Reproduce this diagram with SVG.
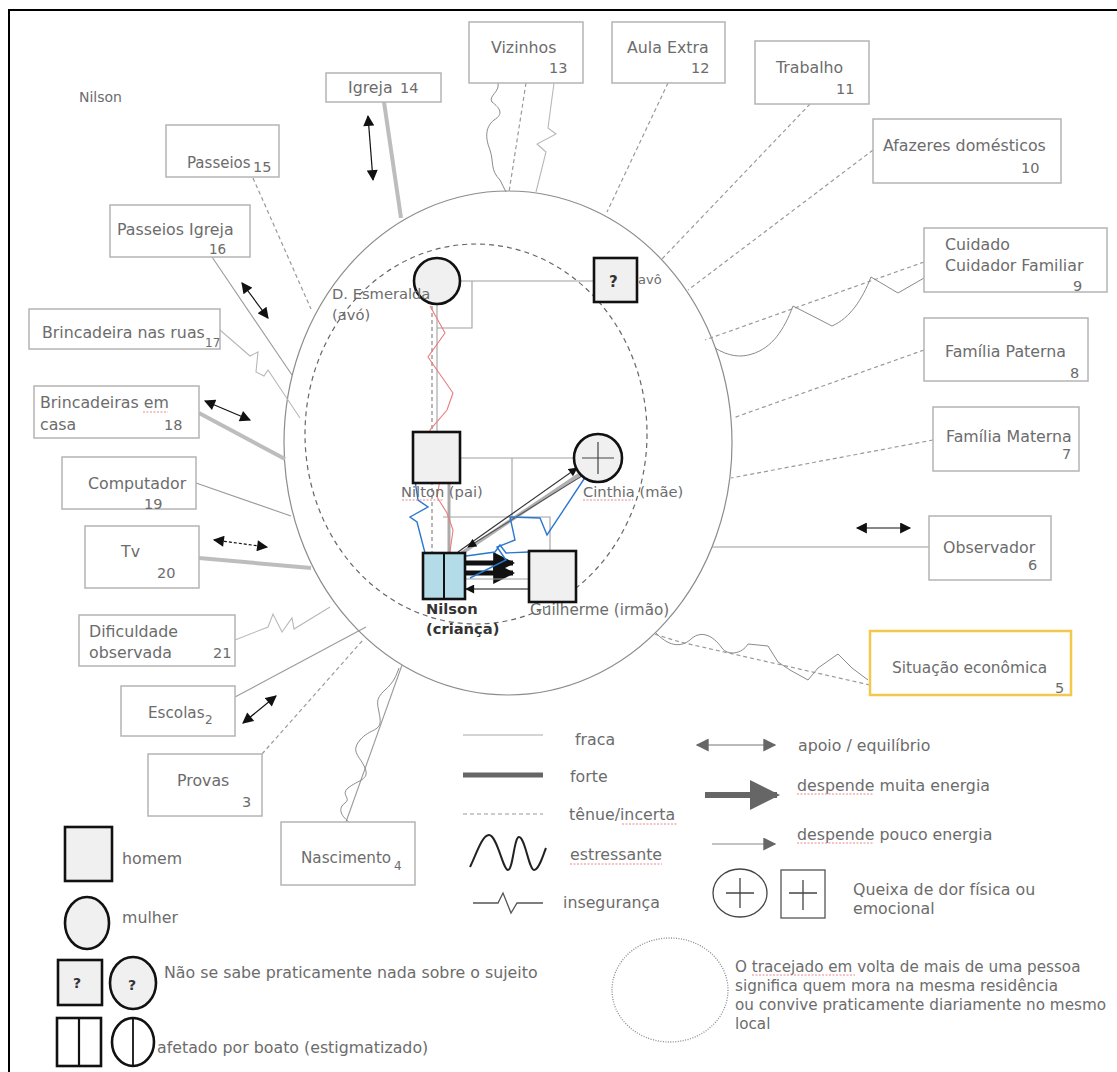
<svg xmlns="http://www.w3.org/2000/svg" width="1117" height="1072" viewBox="0 0 1117 1072">
<defs>
<style>
text{font-family:"DejaVu Sans","Liberation Sans",sans-serif;font-size:15.8px;fill:#6c6c6c}
.num{font-size:14.5px}
.lab{font-size:14.7px}
.box{fill:#fff;stroke:#b4b4b4;stroke-width:1.5}
.thin{fill:none;stroke:#9a9a9a;stroke-width:1.1}
.dash{fill:none;stroke:#9a9a9a;stroke-width:1.2;stroke-dasharray:4 3}
.strong{fill:none;stroke:#bdbdbd;stroke-width:4}
.wave{fill:none;stroke:#8a8a8a;stroke-width:1}
.dbl{fill:none;stroke:#111;stroke-width:1.2;marker-start:url(#ab);marker-end:url(#ab)}
.person{fill:#f0f0f0;stroke:#111;stroke-width:2.6}
.fam{fill:none;stroke:#a0a0a0;stroke-width:1.1}
.spell{fill:none;stroke:#e87c7c;stroke-width:0.9;stroke-dasharray:2 1.5}
.note{font-size:15.2px}
</style>
<marker id="ab" viewBox="0 0 10 10" refX="9" refY="5" markerWidth="12" markerHeight="11" markerUnits="userSpaceOnUse" orient="auto-start-reverse"><path d="M0,0 L10,5 L0,10 Z" fill="#111"/></marker>
<marker id="abs" viewBox="0 0 10 10" refX="9" refY="5" markerWidth="10" markerHeight="9" markerUnits="userSpaceOnUse" orient="auto-start-reverse"><path d="M0,0 L10,5 L0,10 Z" fill="#111"/></marker>
<marker id="abig" viewBox="0 0 10 10" refX="9" refY="5" markerWidth="22" markerHeight="22" markerUnits="userSpaceOnUse" orient="auto"><path d="M0,0 L10,5 L0,10 Z" fill="#111"/></marker>
<marker id="ag" viewBox="0 0 10 10" refX="9" refY="5" markerWidth="16" markerHeight="13" markerUnits="userSpaceOnUse" orient="auto-start-reverse"><path d="M0,0 L10,5 L0,10 Z" fill="#666"/></marker>
<marker id="agbig" viewBox="0 0 10 10" refX="9" refY="5" markerWidth="34" markerHeight="30" markerUnits="userSpaceOnUse" orient="auto"><path d="M0,0 L10,5 L0,10 Z" fill="#666"/></marker>
</defs>
<rect width="1117" height="1072" fill="#fff"/>
<path d="M9,1072 L9,10 L1117,10" fill="none" stroke="#000" stroke-width="2"/>

<text x="79" y="102" style="font-size:14px">Nilson</text>

<g id="circles">
<ellipse cx="508" cy="443" rx="224" ry="252" fill="none" stroke="#8c8c8c" stroke-width="1.2"/>
<ellipse cx="476" cy="434" rx="171" ry="190" fill="none" stroke="#666" stroke-width="1.2" stroke-dasharray="5 4"/>
</g>

<g id="connectors">
<path class="strong" d="M384,102 L401,218"/>
<path class="dbl" d="M368,116 L373,180"/>
<path class="dash" d="M253,178 L311,309"/>
<path class="thin" d="M212,257 L292,375"/>
<path class="dbl" d="M242,283 L268,318"/>
<path class="thin" style="stroke:#b8b8b8" d="M220,330 L250,356 L258,352 L256,372 L264,376 L268,370 L300,418"/>
<path class="strong" d="M199,413 L285,459"/>
<path class="dbl" d="M205,401 L250,420"/>
<path class="thin" d="M196,483 L291,516"/>
<path class="strong" d="M199,558 L311,568"/>
<path class="dbl" style="stroke-dasharray:3 2" d="M214,540 L267,547"/>
<path class="thin" style="stroke:#b8b8b8" d="M235,640 L268,627 L273,614 L282,632 L292,618 L294,629 L330,607"/>
<path class="thin" d="M235,697 L366,627"/>
<path class="dbl" d="M243,723 L276,696"/>
<path class="dash" d="M262,754 L363,640"/>
<path class="thin" d="M346,822 L402,665"/>
<path class="wave" d="M349,822 C340,815 338,808 345,803 C352,798 340,795 348,788 C358,780 370,780 365,768 C360,756 350,752 360,740 C370,728 382,732 380,718 C378,704 374,700 385,690 C394,682 396,676 399,668"/>
<path class="dash" d="M870,685 L680,642 L654,634"/>
<path class="wave" d="M655,632 C668,646 680,648 690,640 C700,630 712,634 722,648 C728,656 742,654 748,644 L768,646 L778,662 L790,670 L808,680 L818,668 L838,654 L852,668 L868,680"/>
<path class="thin" d="M712,547 L929,547"/>
<path class="dbl" d="M857,528 L910,528"/>
<path class="dash" d="M933,440 L731,478"/>
<path class="dash" d="M924,350 L733,418"/>
<path class="dash" d="M924,262 L705,340"/>
<path class="wave" d="M715,348 C728,356 740,358 752,354 C772,348 784,330 793,306 L832,326 C850,318 862,300 871,277 L898,293 L924,278"/>
<path class="dash" d="M873,150 L688,290"/>
<path class="dash" d="M810,104 L661,260"/>
<path class="dash" d="M668,83 L607,212"/>
<path class="wave" d="M498,83 C500,92 488,96 492,102 C500,108 504,114 494,120 C484,128 486,140 490,150 C494,162 490,170 500,180 L506,192"/>
<path class="dash" d="M526,83 L509,192"/>
<path class="thin" style="stroke:#b8b8b8" d="M554,83 L548,128 L556,134 L537,144 L546,152 L536,192"/>

<path class="fam" d="M460,281 L594,281"/>
<path class="fam" d="M472,281 L472,328 L437,328"/>
<path class="fam" d="M437,304 L437,432"/>
<path class="dash" style="stroke:#888" d="M432,306 L432,553"/>
<path class="fam" d="M460,458 L574,458"/>
<path class="fam" d="M512,458 L512,517"/>
<path class="fam" d="M443,517 L550,517 L550,551"/>
<path class="strong" style="stroke:#aaa;stroke-width:3" d="M449,483 L449,553"/>
<path fill="none" stroke="#ec7a7a" stroke-width="1.1" d="M430,306 L445,333 L428,357 L437,370 L453,393 L447,410 L430,430 L433,450 L443,463 L437,497 L447,513 L453,530 L450,552"/>
<path class="strong" style="stroke:#b0b0b0;stroke-width:3.5" d="M462,553 L583,472"/>
<path fill="none" stroke="#333" stroke-width="1.1" marker-end="url(#abs)" d="M458,552 L577,468"/>
<path fill="none" stroke="#555" stroke-width="1.1" marker-end="url(#abs)" d="M585,474 L468,547"/>
<path fill="none" stroke="#111" stroke-width="5" marker-end="url(#abig)" d="M466,563 L513,563"/>
<path fill="none" stroke="#111" stroke-width="5" marker-end="url(#abig)" d="M466,573 L513,573"/>
<path class="fam" d="M466,579 L529,579"/>
<path fill="none" stroke="#111" stroke-width="1.2" marker-end="url(#abs)" d="M529,589 L466,589"/>
<path fill="none" stroke="#2a78d0" stroke-width="1.4" d="M425,553 L417,522 L410,517 L428,507 L418,500 L414,474"/>
<path fill="none" stroke="#2a78d0" stroke-width="1.4" d="M588,473 L547,535 L540,518 L510,517 L515,540 L497,547 L506,560 L470,578"/>
<path fill="none" stroke="#2a78d0" stroke-width="1.4" d="M466,556 L495,552 L500,545 L506,553 L529,552"/>
</g>

<g id="node-igreja"><rect class="box" x="326" y="73" width="115" height="29"/><text x="348" y="93">Igreja</text><text class="num" x="400" y="93">14</text></g>
<g id="node-vizinhos"><rect class="box" x="469" y="22" width="114" height="61"/><text x="491" y="53">Vizinhos</text><text class="num" x="549" y="73">13</text></g>
<g id="node-aula"><rect class="box" x="612" y="22" width="113" height="61"/><text x="627" y="53">Aula Extra</text><text class="num" x="691" y="73">12</text></g>
<g id="node-trabalho"><rect class="box" x="755" y="41" width="114" height="63"/><text x="776" y="73">Trabalho</text><text class="num" x="836" y="94">11</text></g>
<g id="node-afazeres"><rect class="box" x="873" y="119" width="188" height="64"/><text x="883" y="151">Afazeres domésticos</text><text class="num" x="1021" y="173">10</text></g>
<g id="node-cuidado"><rect class="box" x="924" y="228" width="183" height="64"/><text x="945" y="250">Cuidado</text><text x="945" y="271">Cuidador Familiar</text><text class="num" x="1073" y="291">9</text></g>
<g id="node-paterna"><rect class="box" x="924" y="318" width="164" height="63"/><text x="945" y="357">Família Paterna</text><text class="num" x="1070" y="378">8</text></g>
<g id="node-materna"><rect class="box" x="933" y="407" width="146" height="64"/><text x="946" y="442">Família Materna</text><text class="num" x="1062" y="459">7</text></g>
<g id="node-observador"><rect class="box" x="929" y="516" width="122" height="64"/><text x="943" y="553">Observador</text><text class="num" x="1028" y="570">6</text></g>
<g id="node-situacao"><rect x="870" y="631" width="201" height="64" fill="#fff" stroke="#f2c94c" stroke-width="2.5"/><text x="892" y="673" style="font-size:15.4px">Situação econômica</text><text class="num" x="1055" y="693">5</text></g>
<g id="node-nascimento"><rect class="box" x="281" y="822" width="134" height="63"/><text x="301" y="863" style="font-size:15.2px">Nascimento</text><text class="num" x="394" y="870" style="font-size:12px">4</text></g>
<g id="node-provas"><rect class="box" x="148" y="754" width="114" height="62"/><text x="177" y="786">Provas</text><text class="num" x="242" y="807">3</text></g>
<g id="node-escolas"><rect class="box" x="121" y="686" width="114" height="50"/><text x="148" y="718" style="font-size:15.2px">Escolas</text><text class="num" x="205" y="724" style="font-size:12px">2</text></g>
<g id="node-dificuldade"><rect class="box" x="79" y="615" width="156" height="51"/><text x="89" y="637">Dificuldade</text><text x="89" y="658">observada</text><text class="num" x="213" y="658">21</text></g>
<g id="node-tv"><rect class="box" x="85" y="526" width="114" height="62"/><text x="121" y="557">Tv</text><text class="num" x="157" y="578">20</text></g>
<g id="node-computador"><rect class="box" x="62" y="457" width="134" height="52"/><text x="88" y="489">Computador</text><text class="num" x="144" y="509">19</text></g>
<g id="node-brinc-casa"><rect class="box" x="34" y="386" width="165" height="52"/><text x="40" y="408">Brincadeiras em</text><text x="40" y="430">casa</text><text class="num" x="164" y="430">18</text><path class="spell" d="M143,412 L168,412"/></g>
<g id="node-brinc-ruas"><rect class="box" x="29" y="309" width="191" height="40"/><text x="42" y="338">Brincadeira nas ruas</text><text class="num" x="205" y="347" style="font-size:12px">17</text></g>
<g id="node-passeios-igreja"><rect class="box" x="110" y="205" width="140" height="52"/><text x="117" y="235">Passeios Igreja</text><text class="num" x="209" y="254" style="font-size:13.5px">16</text></g>
<g id="node-passeios"><rect class="box" x="166" y="125" width="113" height="52"/><text x="187" y="168" style="font-size:15px">Passeios</text><text class="num" x="253" y="172">15</text></g>

<g id="node-esmeralda"><circle class="person" cx="437" cy="281" r="23"/><text class="lab" x="332" y="299">D. Esmeralda</text><text class="lab" x="332" y="320">(avó)</text></g>
<g id="node-avo"><rect class="person" x="594" y="258" width="43" height="44"/><text x="609" y="287" style="font-weight:bold;fill:#333;font-size:15px">?</text><text x="638" y="284" style="font-size:13px">avô</text></g>
<g id="node-nilton"><rect class="person" x="413" y="432" width="47" height="51"/><text class="lab" x="401" y="497">Nilton (pai)</text><path class="spell" d="M402,500 L443,500"/></g>
<g id="node-cinthia"><circle class="person" cx="598" cy="458" r="24"/><path d="M598,442 L598,474 M582,458 L614,458" stroke="#444" stroke-width="1.2"/><text class="lab" x="583" y="497">Cinthia (mãe)</text><path class="spell" d="M583,500 L633,500"/></g>
<g id="node-nilson"><rect x="423" y="553" width="42" height="46" fill="#b3dbe8" stroke="#111" stroke-width="2.6"/><path d="M444,553 L444,599" stroke="#111" stroke-width="2"/><text x="426" y="614" style="font-weight:bold;fill:#333;font-size:14.7px">Nilson</text><text x="426" y="634" style="font-weight:bold;fill:#333;font-size:14.7px">(criança)</text></g>
<g id="node-guilherme"><text class="lab" x="530" y="615" style="font-size:15.2px">Guilherme (irmão)</text><rect class="person" x="529" y="551" width="47" height="51"/></g>

<g id="legend">
<path d="M463,735 L543,735" stroke="#aaa" stroke-width="1.2"/><text x="575" y="745">fraca</text>
<path d="M463,775 L543,775" stroke="#666" stroke-width="5"/><text x="570" y="782">forte</text>
<path d="M463,814 L543,814" stroke="#999" stroke-width="1.2" stroke-dasharray="4 3"/><text x="569" y="820">tênue/incerta</text><path class="spell" d="M622,824 L677,824"/>
<path d="M470,867 C476,855 482,835 489,835 C497,835 503,870 508,870 C513,870 514,837 519,837 C525,837 529,870 534,870 C539,870 543,855 546,848" fill="none" stroke="#222" stroke-width="2"/><text x="570" y="860">estressante</text><path class="spell" d="M570,864 L662,864"/>
<path d="M473,903 L498,903 L503,893 L511,913 L517,903 L543,903" fill="none" stroke="#555" stroke-width="1.3"/><text x="563" y="908">insegurança</text>
<path d="M697,745 L775,745" stroke="#777" stroke-width="1.2" marker-start="url(#ag)" marker-end="url(#ag)"/><text x="798" y="751">apoio / equilíbrio</text>
<path d="M705,795 L777,795" stroke="#666" stroke-width="6" marker-end="url(#agbig)"/><text x="797" y="791">despende  muita energia</text><path class="spell" d="M797,794 L873,794"/>
<path d="M712,844 L775,844" stroke="#888" stroke-width="1.2" marker-end="url(#ag)"/><text x="797" y="840">despende pouco energia</text><path class="spell" d="M797,843 L873,843"/>
<ellipse cx="740" cy="893" rx="27" ry="24" fill="none" stroke="#444" stroke-width="1.3"/><path d="M740,878 L740,908 M726,893 L754,893" stroke="#444" stroke-width="1.3"/>
<rect x="781" y="870" width="44" height="48" fill="none" stroke="#555" stroke-width="1.3"/><path d="M803,880 L803,910 M789,893 L817,893" stroke="#444" stroke-width="1.3"/>
<text x="853" y="895">Queixa de dor física ou</text><text x="853" y="914">emocional</text>
<ellipse cx="670" cy="990" rx="58" ry="52" fill="none" stroke="#888" stroke-width="1.3" stroke-dasharray="1 1.5"/>
<text class="note" x="735" y="972">O tracejado em volta de mais de uma pessoa</text>
<text class="note" x="735" y="991">significa quem mora na mesma residência</text>
<text class="note" x="735" y="1010">ou convive praticamente diariamente no mesmo</text>
<text class="note" x="735" y="1029">local</text>
<path class="spell" d="M752,975 L855,975"/>
<rect class="person" x="65" y="827" width="47" height="54"/><text x="122" y="864">homem</text>
<ellipse class="person" cx="87" cy="923" rx="22" ry="26"/><text x="122" y="923">mulher</text>
<rect class="person" x="58" y="960" width="44" height="45"/><text x="73" y="988" style="font-weight:bold;fill:#333;font-size:14px">?</text>
<ellipse class="person" cx="133" cy="983" rx="23" ry="26"/><text x="128" y="990" style="font-weight:bold;fill:#333;font-size:14px">?</text>
<text x="164" y="978">Não se sabe praticamente nada sobre o sujeito</text>
<rect x="57" y="1018" width="44" height="48" fill="#fff" stroke="#111" stroke-width="2.6"/><path d="M79,1018 L79,1066" stroke="#111" stroke-width="2.2"/>
<ellipse cx="133" cy="1042" rx="21" ry="24" fill="#fff" stroke="#111" stroke-width="2.6"/><path d="M133,1018 L133,1066" stroke="#111" stroke-width="1.8"/>
<text x="157" y="1053">afetado por boato (estigmatizado)</text>
</g>
</svg>
